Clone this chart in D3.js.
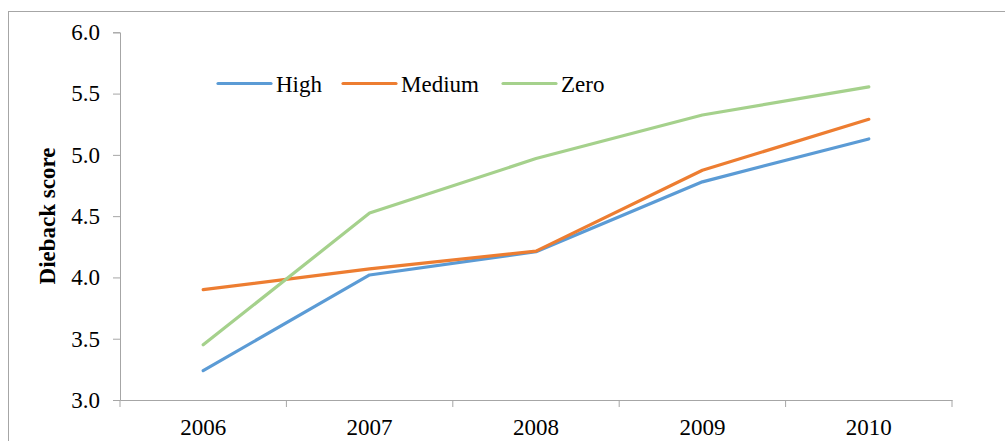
<!DOCTYPE html>
<html>
<head>
<meta charset="utf-8">
<script src="https://cdn.jsdelivr.net/npm/d3@7"></script>
<style>
  html, body { margin: 0; padding: 0; background: #fff; }
  svg { display: block; font-family: "Liberation Serif", "Times New Roman", serif; }
</style>
</head>
<body>
<svg id="chart" width="1005" height="441"></svg>
<script>
// Dieback score by year for each treatment level
const years = ["2006", "2007", "2008", "2009", "2010"];
const highValues = [3.24, 4.02, 4.21, 4.78, 5.13];
const mediumValues = [3.90, 4.07, 4.215, 4.875, 5.29];
const zeroValues = [3.45, 4.525, 4.97, 5.325, 5.555];
const seriesNames = ["High", "Medium", "Zero"];
const seriesColors = ["#5b9bd5", "#ed7d31", "#a5d18c"];
const yTicks = [3.0, 3.5, 4.0, 4.5, 5.0, 5.5, 6.0];

const series = [highValues, mediumValues, zeroValues].map((values, i) => ({
  name: seriesNames[i],
  color: seriesColors[i],
  values
}));

const FONT = "'Liberation Serif', 'Times New Roman', serif";
const svg = d3.select("#chart");
const plot = { left: 120, right: 952, top: 32.3, bottom: 400 };

// Outer chart frame
svg.append("rect")
  .attr("x", 8.5).attr("y", 11.5)
  .attr("width", 1010).attr("height", 450)
  .attr("fill", "none").attr("stroke", "#a6a6a6").attr("stroke-width", 1);

const x = d3.scaleBand().domain(years).range([plot.left, plot.right]);
const y = d3.scaleLinear().domain([3, 6]).range([plot.bottom, plot.top]);

// Y axis
const yAxis = svg.append("g")
  .attr("transform", `translate(${plot.left},0)`)
  .call(d3.axisLeft(y).tickValues(yTicks).tickFormat(d3.format(".1f")).tickSize(7).tickPadding(13));
yAxis.select(".domain").attr("stroke", "#a6a6a6");
yAxis.selectAll(".tick line").attr("stroke", "#a6a6a6");
yAxis.selectAll("text")
  .attr("font-family", FONT)
  .attr("font-size", 23).attr("fill", "#000");

// X axis with ticks on category boundaries
const xAxis = svg.append("g")
  .attr("transform", `translate(0,${plot.bottom})`)
  .call(d3.axisBottom(x).tickSize(0).tickSizeOuter(0).tickPadding(19));
xAxis.select(".domain").attr("stroke", "#a6a6a6");
xAxis.selectAll("text")
  .attr("font-family", FONT)
  .attr("font-size", 23).attr("fill", "#000");
const boundaries = years.map(d => x(d)).concat([x(years[years.length - 1]) + x.bandwidth()]);
xAxis.selectAll(".boundary")
  .data(boundaries)
  .enter().append("line")
  .attr("class", "boundary")
  .attr("x1", d => d).attr("x2", d => d)
  .attr("y1", 0).attr("y2", 7)
  .attr("stroke", "#a6a6a6");

// Y axis title
svg.append("text")
  .attr("transform", `translate(55,216) rotate(-90)`)
  .attr("text-anchor", "middle")
  .attr("font-family", FONT)
  .attr("font-size", 23).attr("font-weight", "bold")
  .text("Dieback score");

// Series lines
const line = d3.line()
  .x((d, i) => x(years[i]) + x.bandwidth() / 2)
  .y(d => y(d));

svg.append("g").selectAll("path")
  .data(series)
  .enter().append("path")
  .attr("d", d => line(d.values))
  .attr("fill", "none")
  .attr("stroke", d => d.color)
  .attr("stroke-width", 3.2)
  .attr("stroke-linecap", "round")
  .attr("stroke-linejoin", "round");

// Legend
const legendX = [218, 343, 503];
const legend = svg.append("g").selectAll("g")
  .data(series)
  .enter().append("g")
  .attr("transform", (d, i) => `translate(${legendX[i]},83.5)`);
legend.append("line")
  .attr("x1", 0).attr("x2", 53)
  .attr("y1", 0).attr("y2", 0)
  .attr("stroke", d => d.color)
  .attr("stroke-width", 3.2)
  .attr("stroke-linecap", "round");
legend.append("text")
  .attr("x", 58).attr("y", 8)
  .attr("font-family", FONT)
  .attr("font-size", 23)
  .attr("fill", "#000")
  .text(d => d.name);
</script>
</body>
</html>
